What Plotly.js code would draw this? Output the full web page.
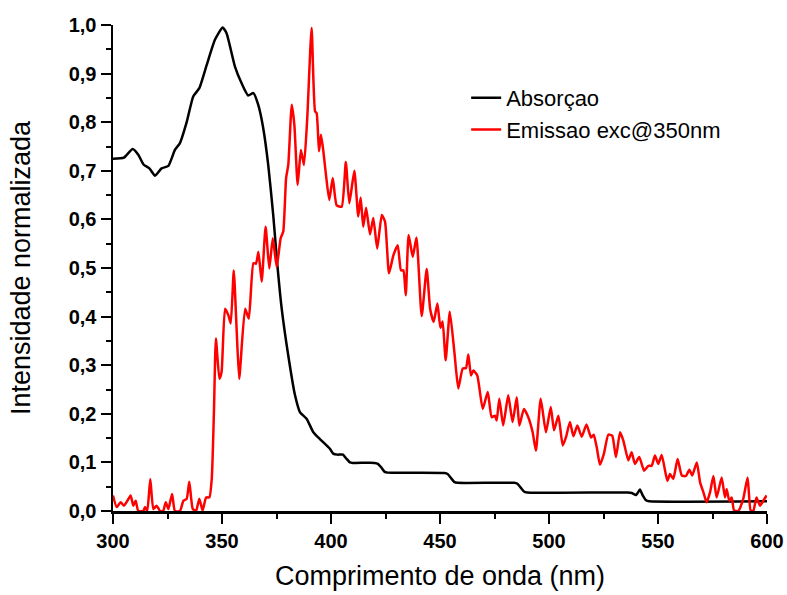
<!DOCTYPE html>
<html>
<head>
<meta charset="utf-8">
<script src="https://cdn.plot.ly/plotly-3.0.1.min.js"></script>
<style>html,body{margin:0;padding:0;background:#fff;}#chart{width:787px;height:595px;}</style>
</head>
<body>
<div id="chart"></div>
<script>
// Absorption spectrum (black)
const absX = [300,305,309,311.6,314,316.7,319.3,322.3,325.4,328.4,330.7,333.8,336.8,339.6,343,346.8,350.3,352.1,355.9,359,362,364.4,366.6,368.9,371.2,373.5,375.4,377.4,380.4,383.5,385.8,388.8,391.9,394.9,399.5,401,403,405.5,407,408.7,410,420,421.5,423,424.5,426,452,453.5,455,456.5,458,484,485.5,487,488.5,490,536,538,540,541.7,543,544.5,546,600];
const absY = [0.725,0.727,0.745,0.733,0.713,0.705,0.69,0.705,0.71,0.743,0.757,0.80,0.853,0.87,0.918,0.97,0.995,0.983,0.915,0.88,0.855,0.86,0.836,0.788,0.712,0.609,0.506,0.416,0.32,0.238,0.203,0.19,0.162,0.148,0.128,0.118,0.116,0.116,0.108,0.10,0.099,0.099,0.097,0.09,0.081,0.079,0.078,0.076,0.068,0.06,0.058,0.058,0.056,0.048,0.04,0.038,0.038,0.037,0.033,0.044,0.032,0.022,0.02,0.02];

// Emission spectrum, excitation at 350 nm (red)
const emX = [300.0,301.7,303.5,305.0,306.6,308.1,309.3,310.4,311.6,313.9,314.7,315.7,317.1,318.5,320.0,321.6,323.0,324.2,325.4,327.1,328.4,330.7,332.3,333.8,335.0,336.6,338.1,339.6,341.1,342.7,344.2,345.3,346.3,347.2,348.8,349.8,351.4,352.9,354.0,355.4,356.7,357.9,360.6,362.3,364.4,365.6,366.7,368.2,370.0,371.7,373.3,375.1,376.9,378.1,379.4,380.4,382.0,383.2,384.7,386.2,387.6,389.1,391.1,392.7,393.4,394.5,395.4,396.5,397.7,399.2,400.8,402.6,404.9,406.8,408.4,410.7,412.5,413.6,414.8,416.1,417.9,419.4,421.2,423.3,424.8,426.6,428.6,430.6,432.1,433.2,434.3,435.6,437.5,439.2,441.6,443.9,445.5,447.1,448.8,450.2,451.2,452.6,454.5,456.6,458.4,460.4,461.9,463.0,464.2,465.3,467.1,469.6,471.9,473.7,475.2,476.0,477.2,479.0,481.3,483.3,485.2,486.4,488.5,490.5,492.5,494.0,496.2,498.6,500.8,502.3,504.3,506.3,507.8,509.6,511.2,513.0,515.0,517.2,519.3,520.5,521.9,523.4,525.2,527.2,529.0,530.7,532.6,534.1,536.4,537.9,539.4,541.4,543.6,545.6,547.1,548.6,550.1,551.7,554.3,555.5,557.0,559.0,560.9,562.8,564.4,565.7,567.8,569.3,570.8,572.3,573.9,575.4,576.9,579.2,580.7,581.5,582.7,583.8,584.9,586.8,589.1,591.1,592.5,593.7,595.2,596.8,598.3,599.8];
const emY = [0.032,0.008,0.018,0.011,0.021,0.032,0.011,0.021,0.0,0.0,0.008,0.0,0.066,0.004,0.011,0.0,0.0,0.018,0.004,0.035,0.0,0.0,0.021,0.025,0.060,0.004,0.0,0.025,0.001,0.028,0.028,0.066,0.203,0.355,0.272,0.286,0.416,0.403,0.386,0.495,0.375,0.272,0.416,0.396,0.510,0.509,0.533,0.472,0.585,0.499,0.561,0.502,0.561,0.575,0.685,0.712,0.836,0.794,0.671,0.743,0.712,0.808,0.994,0.822,0.819,0.740,0.774,0.740,0.691,0.640,0.685,0.629,0.626,0.718,0.633,0.700,0.606,0.645,0.585,0.624,0.569,0.603,0.540,0.609,0.595,0.489,0.526,0.547,0.495,0.495,0.444,0.568,0.523,0.563,0.401,0.498,0.415,0.389,0.427,0.377,0.390,0.310,0.410,0.327,0.252,0.293,0.294,0.322,0.279,0.289,0.279,0.210,0.245,0.193,0.196,0.186,0.231,0.176,0.238,0.183,0.234,0.176,0.210,0.193,0.162,0.124,0.231,0.162,0.214,0.166,0.196,0.135,0.152,0.183,0.154,0.176,0.153,0.178,0.151,0.157,0.131,0.095,0.118,0.157,0.155,0.111,0.162,0.145,0.104,0.121,0.097,0.111,0.083,0.093,0.093,0.114,0.097,0.115,0.062,0.076,0.066,0.107,0.073,0.072,0.085,0.073,0.100,0.059,0.039,0.018,0.039,0.072,0.028,0.069,0.028,0.045,0.021,0.028,0.001,0.0,0.025,0.069,0.001,0.0,0.028,0.011,0.021,0.032];

const seriesNames = ["Absorçao", "Emissao exc@350nm"];
const xTitle = "Comprimento de onda (nm)";
const yTitle = "Intensidade normalizada";

const traces = [
  {x: absX, y: absY, name: seriesNames[0], type: 'scatter', mode: 'lines',
   line: {color: '#000000', width: 2.5, shape: 'spline', smoothing: 0.5}},
  {x: emX, y: emY, name: seriesNames[1], type: 'scatter', mode: 'lines',
   line: {color: '#ff0000', width: 2.5, shape: 'spline', smoothing: 0.5}}
];

const tickFont = {family: 'Liberation Sans, Arial, sans-serif', size: 20, weight: 'bold', color: '#000'};
const titleFont = {family: 'Liberation Sans, Arial, sans-serif', size: 27, color: '#000'};

const layout = {
  width: 787, height: 595,
  margin: {l: 113, r: 20, t: 25, b: 84},
  paper_bgcolor: '#fff', plot_bgcolor: '#fff',
  separators: ',.',
  showlegend: true,
  legend: {x: 0.54, y: 0.893, xanchor: 'left', yanchor: 'top',
    font: {family: 'Liberation Sans, Arial, sans-serif', size: 22, color: '#000'},
    bgcolor: 'rgba(0,0,0,0)', tracegroupgap: 0},
  xaxis: {
    range: [300, 600], dtick: 50, tick0: 300,
    showgrid: false, zeroline: false,
    showline: true, linecolor: '#000', linewidth: 2.5,
    ticks: 'outside', ticklen: 10, tickwidth: 2, tickcolor: '#000',
    minor: {dtick: 25, ticks: 'outside', ticklen: 5, tickwidth: 2, tickcolor: '#000', showgrid: false},
    tickfont: tickFont,
    title: {text: xTitle, font: titleFont, standoff: 16}
  },
  yaxis: {
    range: [0, 1.0], dtick: 0.1, tick0: 0, tickformat: '.1f',
    showgrid: false, zeroline: false,
    showline: true, linecolor: '#000', linewidth: 2.5,
    ticks: 'outside', ticklen: 10, tickwidth: 2, tickcolor: '#000',
    minor: {dtick: 0.05, ticks: 'outside', ticklen: 5, tickwidth: 2, tickcolor: '#000', showgrid: false},
    tickfont: tickFont,
    title: {text: yTitle, font: titleFont, standoff: 30}
  }
};

Plotly.newPlot('chart', traces, layout, {displayModeBar: false, staticPlot: true});
</script>
</body>
</html>
